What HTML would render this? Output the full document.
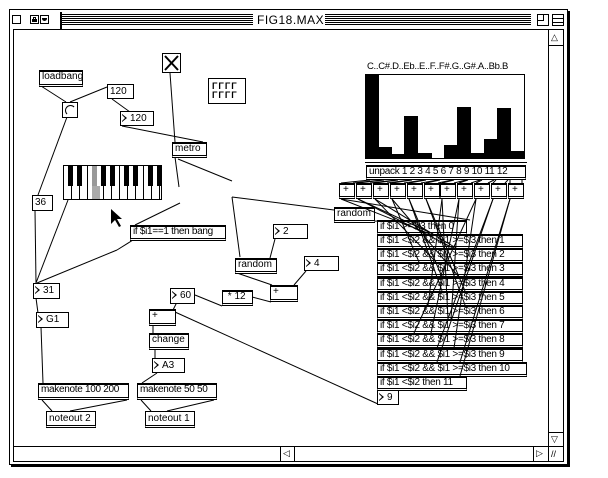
<!DOCTYPE html>
<html><head><meta charset="utf-8"><style>
html,body{margin:0;padding:0;background:#fff;}
body{width:608px;height:478px;position:relative;overflow:hidden;font-family:"Liberation Sans",sans-serif;}
.b{position:absolute;box-sizing:border-box;border:1px solid #000;background:#fff;font-size:10px;line-height:13px;padding-left:2px;white-space:nowrap;overflow:hidden;}
.o{border-top:2px solid #000;border-bottom:3px double #000;line-height:10px;}
.n{padding-left:9px;}
.n:before{content:"";position:absolute;left:1px;top:2px;border-left:5px solid #000;border-top:4px solid transparent;border-bottom:4px solid transparent;}
.n:after{content:"";position:absolute;left:1px;top:3px;border-left:3px solid #fff;border-top:3px solid transparent;border-bottom:3px solid transparent;}
.f{letter-spacing:-0.3px;}
svg{position:absolute;left:0;top:0;}
.t{position:absolute;font-size:11px;}
</style></head><body>
<!-- window -->
<div style="position:absolute;left:11px;top:11px;width:559px;height:456px;background:#000"></div>
<div style="position:absolute;left:9px;top:9px;width:559px;height:456px;box-sizing:border-box;border:1px solid #000;background:#fff"></div>
<div style="position:absolute;left:13px;top:29px;width:551px;height:433px;box-sizing:border-box;border:1px solid #000"></div>
<!-- title bar -->
<div style="position:absolute;left:60px;top:14px;width:193px;height:12px;background:repeating-linear-gradient(#000 0 1px,#fff 1px 2px)"></div>
<div style="position:absolute;left:325px;top:14px;width:206px;height:12px;background:repeating-linear-gradient(#000 0 1px,#fff 1px 2px)"></div>
<div style="position:absolute;left:60px;top:12px;width:2px;height:17px;background:#000"></div>
<div class="t" style="left:257px;top:13px;font-size:12px;letter-spacing:0.5px">FIG18.MAX</div>
<div style="position:absolute;left:12px;top:15px;width:7px;height:7px;border:1px solid #000"></div>
<div style="position:absolute;left:30px;top:15px;width:7px;height:7px;border:1px solid #000"><div style="position:absolute;left:1px;top:3px;width:5px;height:3px;background:#000"></div><div style="position:absolute;left:2px;top:1px;width:1px;height:2px;border:1px solid #000;border-bottom:0"></div></div>
<div style="position:absolute;left:40px;top:15px;width:7px;height:7px;border:1px solid #000"><div style="position:absolute;left:1px;top:2px;width:5px;height:3px;background:#000;border-radius:0 0 3px 3px"></div></div>
<div style="position:absolute;left:537px;top:14px;width:10px;height:10px;border:1px solid #000"><div style="position:absolute;left:0;top:0;width:5px;height:5px;border-right:1px solid #000;border-bottom:1px solid #000"></div></div>
<div style="position:absolute;left:552px;top:14px;width:10px;height:10px;border:1px solid #000"><div style="position:absolute;left:0;top:3px;width:10px;height:3px;border-top:1px solid #000;border-bottom:1px solid #000"></div></div>
<!-- scrollbars -->
<div style="position:absolute;left:548px;top:29px;width:15px;height:417px;box-sizing:border-box;border-left:1px solid #000"></div>
<div style="position:absolute;left:548px;top:45px;width:15px;height:1px;background:#000"></div>
<div style="position:absolute;left:548px;top:432px;width:15px;height:1px;background:#000"></div>
<div class="t" style="left:551px;top:32px;font-size:9px">△</div>
<div class="t" style="left:551px;top:434px;font-size:9px">▽</div>
<div style="position:absolute;left:13px;top:446px;width:551px;height:1px;background:#000"></div>
<div style="position:absolute;left:548px;top:446px;width:1px;height:16px;background:#000"></div>
<div style="position:absolute;left:280px;top:446px;width:1px;height:16px;background:#000"></div>
<div style="position:absolute;left:294px;top:446px;width:1px;height:16px;background:#000"></div>
<div style="position:absolute;left:533px;top:446px;width:1px;height:16px;background:#000"></div>
<div class="t" style="left:283px;top:448px;font-size:9px">◁</div>
<div class="t" style="left:536px;top:448px;font-size:9px">▷</div>
<div class="t" style="left:551px;top:449px;font-size:9px">//</div>

<svg width="608" height="478" stroke="#000" stroke-width="1" fill="none">
<line x1="41" y1="86" x2="66" y2="102"/>
<line x1="67" y1="117" x2="38" y2="195"/>
<line x1="70" y1="102" x2="107" y2="87"/>
<line x1="112" y1="99" x2="130" y2="112"/>
<line x1="122" y1="126" x2="203" y2="142"/>
<line x1="170" y1="73" x2="175" y2="142"/>
<line x1="175" y1="157" x2="179" y2="187"/>
<line x1="178" y1="159" x2="232" y2="181"/>
<line x1="180" y1="203" x2="135" y2="225"/>
<line x1="232" y1="197" x2="334" y2="210"/>
<line x1="232" y1="197" x2="240" y2="257"/>
<line x1="68" y1="200" x2="36" y2="283"/>
<line x1="35" y1="210" x2="36" y2="283"/>
<line x1="117" y1="250" x2="37" y2="283"/>
<line x1="133" y1="240" x2="117" y2="250"/>
<line x1="36" y1="298" x2="38" y2="313"/>
<line x1="41" y1="327" x2="43" y2="383"/>
<line x1="42" y1="400" x2="52" y2="411"/>
<line x1="127" y1="400" x2="70" y2="411"/>
<line x1="141" y1="400" x2="151" y2="411"/>
<line x1="214" y1="400" x2="167" y2="411"/>
<line x1="157" y1="373" x2="142" y2="383"/>
<line x1="155" y1="349" x2="155" y2="358"/>
<line x1="153" y1="325" x2="153" y2="333"/>
<line x1="177" y1="302" x2="173" y2="310"/>
<line x1="195" y1="295" x2="222" y2="306"/>
<line x1="252" y1="297" x2="271" y2="302"/>
<line x1="237" y1="273" x2="272" y2="285"/>
<line x1="306" y1="271" x2="294" y2="285"/>
<line x1="275" y1="239" x2="270" y2="258"/>
<line x1="175" y1="312" x2="378" y2="404"/>
<line x1="336" y1="222" x2="380" y2="221"/>
</svg>

<!-- objects -->
<div class="b o" style="left:39px;top:70px;width:44px;height:17px">loadbang</div>
<div class="b" style="left:62px;top:102px;width:16px;height:16px"><div style="position:absolute;left:2px;top:2px;width:9px;height:9px;border-radius:50%;border:1px solid #000;border-right-color:transparent;border-bottom-color:transparent"></div></div>
<div class="b" style="left:107px;top:84px;width:27px;height:15px">120</div>
<div class="b n" style="left:120px;top:111px;width:34px;height:15px">120</div>
<div class="b" style="left:162px;top:53px;width:19px;height:20px"><svg width="17" height="18"><line x1="2" y1="2" x2="15" y2="16" stroke="#000" stroke-width="2"/><line x1="15" y1="2" x2="2" y2="16" stroke="#000" stroke-width="2"/></svg></div>
<div class="b" style="left:208px;top:78px;width:38px;height:26px;padding:3px 0 0 3px;font-size:9px;line-height:9px;font-weight:bold;letter-spacing:1px">ΓΓΓΓ<br>ΓΓΓΓ</div>
<div class="b o" style="left:172px;top:142px;width:35px;height:16px">metro</div>
<!-- keyboard -->
<div style="position:absolute;left:63px;top:165px;width:99px;height:35px;box-sizing:border-box;border:1px solid #000;background:repeating-linear-gradient(90deg,#fff 0 7px,#000 7px 8px)"></div>
<svg width="608" height="478">
<g fill="#000">
<rect x="68" y="166" width="5" height="20"/><rect x="77" y="166" width="5" height="20"/>
<rect x="92" y="166" width="5" height="20" fill="#999"/><rect x="101" y="166" width="5" height="20"/><rect x="110" y="166" width="5" height="20"/>
<rect x="124" y="166" width="5" height="20"/><rect x="133" y="166" width="5" height="20"/>
<rect x="148" y="166" width="5" height="20"/><rect x="157" y="166" width="4" height="20"/>
<rect x="92" y="186" width="8" height="13" fill="#aaa"/>
<path d="M111 209 L111 224 L115 220 L119 227 L121 226 L117 219 L122 219 Z"/>
</g></svg>
<div class="b" style="left:32px;top:195px;width:21px;height:16px">36</div>
<div class="b o f" style="left:130px;top:225px;width:96px;height:16px">if $i1==1 then bang</div>
<div class="b n" style="left:33px;top:283px;width:27px;height:16px">31</div>
<div class="b n" style="left:36px;top:312px;width:33px;height:16px">G1</div>
<div class="b n" style="left:170px;top:288px;width:25px;height:16px">60</div>
<div class="b o" style="left:222px;top:290px;width:31px;height:16px">&nbsp;* 12</div>
<div class="b o" style="left:270px;top:285px;width:28px;height:17px">+</div>
<div class="b n" style="left:304px;top:256px;width:35px;height:15px">4</div>
<div class="b o" style="left:235px;top:258px;width:42px;height:16px">random</div>
<div class="b n" style="left:273px;top:224px;width:35px;height:15px">2</div>
<div class="b o" style="left:334px;top:207px;width:41px;height:16px">random</div>
<div class="b o" style="left:149px;top:309px;width:27px;height:17px">+</div>
<div class="b o" style="left:149px;top:333px;width:40px;height:17px">change</div>
<div class="b n" style="left:152px;top:358px;width:33px;height:15px">A3</div>
<div class="b o f" style="left:38px;top:383px;width:91px;height:17px">makenote 100 200</div>
<div class="b" style="left:46px;top:411px;width:50px;height:17px;border-bottom:3px double #000">noteout 2</div>
<div class="b o f" style="left:137px;top:383px;width:80px;height:17px">makenote 50 50</div>
<div class="b" style="left:145px;top:411px;width:50px;height:17px;border-bottom:3px double #000">noteout 1</div>

<!-- histogram -->
<div class="t" style="left:367px;top:61px;font-size:9.5px;letter-spacing:-0.3px">C..C#.D..Eb..E..F..F#.G..G#.A..Bb.B</div>
<div style="position:absolute;left:365px;top:74px;width:160px;height:85px;box-sizing:border-box;border:1px solid #000"></div>
<svg width="608" height="478"><g fill="#000">
<rect x="365" y="74" width="14" height="85"/>
<rect x="378" y="147" width="14" height="12"/>
<rect x="391" y="154" width="14" height="5"/>
<rect x="404" y="116" width="14" height="43"/>
<rect x="418" y="153" width="14" height="6"/>
<rect x="431" y="158" width="14" height="1"/>
<rect x="444" y="145" width="14" height="14"/>
<rect x="457" y="107" width="14" height="52"/>
<rect x="471" y="153" width="14" height="6"/>
<rect x="484" y="139" width="14" height="20"/>
<rect x="497" y="108" width="14" height="51"/>
<rect x="511" y="151" width="14" height="8"/>
<rect x="365" y="162" width="162" height="1"/>
</g></svg>
<div class="b o f" style="left:366px;top:165px;width:160px;height:15px;line-height:9px">unpack 1 2 3 4 5 6 7 8 9 10 11 12</div>
<div id="plus"></div>
<div id="ifs"></div>
<div class="b n" style="left:377px;top:390px;width:22px;height:15px">9</div>
<svg width="608" height="478" id="s2" stroke="#000" fill="none"></svg>
<script>
var P='',px=[];
for(var i=0;i<11;i++){var x=Math.round(339+i*16.9);px.push(x);P+='<div class="b o" style="left:'+x+'px;top:183px;width:16px;height:16px;padding-left:3px">+</div>';}
document.getElementById('plus').innerHTML=P;
var tx=['if $i1 >=$i3 then 0'];
for(var k=1;k<=10;k++)tx.push('if $i1 &lt;$i2 &amp;&amp; $i1 &gt;=$i3 then '+k);
tx.push('if $i1 &lt;$i2 then 11');
var ry=[220,234,248,262,277,291,305,319,333,348,362,376],H='';
for(var k=0;k<12;k++){var w=(k==0||k==11)?90:(k==10?150:146);H+='<div class="b o f" style="left:377px;top:'+ry[k]+'px;width:'+w+'px;height:15px">'+tx[k]+'</div>';}
document.getElementById('ifs').innerHTML=H;
var S='';
for(var i=0;i<11;i++){var ux=370+i*14;S+='<line x1="'+ux+'" y1="180" x2="'+(px[i]+2)+'" y2="183"/>';S+='<line x1="'+(ux+12)+'" y1="180" x2="'+(px[i]+14)+'" y2="183"/>';
S+='<line x1="'+(px[i]+2)+'" y1="199" x2="'+(470-((i*37)%60))+'" y2="'+ry[i]+'"/>';
S+='<line x1="'+(px[i]+2)+'" y1="199" x2="'+(430+((i*23)%40))+'" y2="'+ry[i+1]+'"/>';}
document.getElementById('s2').innerHTML=S;
</script>
</body></html>
